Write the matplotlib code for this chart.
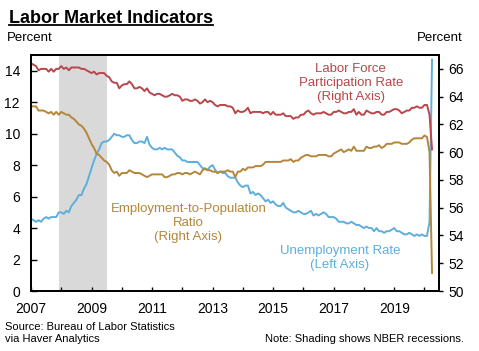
#
# Labor Market Indicators: unemployment rate (left axis), participation and
# employment-to-population ratio (right axis), monthly 2007 - Apr 2020
#
import numpy as np
import matplotlib
matplotlib.use('Agg')
import matplotlib.pyplot as plt
from matplotlib.lines import Line2D

plt.rcParams['font.family'] = ['Liberation Sans', 'DejaVu Sans']

# monthly values, Jan 2007 .. Apr 2020
unemp = [4.6, 4.5, 4.4, 4.5, 4.4, 4.6, 4.7, 4.6, 4.7, 4.7, 4.7, 5.0,
         5.0, 4.9, 5.1, 5.0, 5.4, 5.6, 5.8, 6.1, 6.1, 6.5, 6.8, 7.3,
         7.8, 8.3, 8.7, 9.0, 9.4, 9.5, 9.5, 9.6, 9.8, 10.0, 9.9, 9.9,
         9.8, 9.8, 9.9, 9.9, 9.6, 9.4, 9.4, 9.5, 9.5, 9.4, 9.8, 9.3,
         9.1, 9.0, 9.0, 9.1, 9.0, 9.1, 9.0, 9.0, 9.0, 8.8, 8.6, 8.5,
         8.3, 8.3, 8.2, 8.2, 8.2, 8.2, 8.2, 8.0, 7.8, 7.8, 7.7, 7.9,
         8.0, 7.7, 7.5, 7.6, 7.5, 7.5, 7.3, 7.2, 7.2, 7.2, 6.9, 6.7,
         6.6, 6.7, 6.7, 6.2, 6.3, 6.1, 6.2, 6.1, 5.9, 5.7, 5.8, 5.6,
         5.7, 5.5, 5.4, 5.4, 5.6, 5.3, 5.2, 5.1, 5.0, 5.0, 5.1, 5.0,
         4.9, 4.9, 5.0, 5.1, 4.8, 4.9, 4.8, 4.9, 5.0, 4.9, 4.7, 4.7,
         4.7, 4.6, 4.4, 4.4, 4.4, 4.3, 4.3, 4.4, 4.3, 4.2, 4.2, 4.1,
         4.0, 4.1, 4.0, 4.0, 3.8, 4.0, 3.8, 3.8, 3.7, 3.8, 3.8, 3.9,
         4.0, 3.8, 3.8, 3.7, 3.6, 3.6, 3.7, 3.6, 3.5, 3.6, 3.5, 3.6,
         3.5, 3.5, 4.4, 14.7]

lfpr = [66.4, 66.3, 66.2, 65.9, 66.0, 66.0, 66.0, 65.8, 66.0, 65.8, 66.0, 66.0,
        66.2, 66.0, 66.1, 65.9, 66.1, 66.1, 66.1, 66.1, 66.0, 66.0, 65.9, 65.8,
        65.7, 65.8, 65.6, 65.7, 65.7, 65.7, 65.5, 65.4, 65.1, 65.0, 65.0, 64.6,
        64.8, 64.9, 64.9, 65.1, 64.9, 64.6, 64.6, 64.7, 64.6, 64.4, 64.6, 64.3,
        64.2, 64.1, 64.2, 64.2, 64.1, 64.0, 64.0, 64.1, 64.2, 64.1, 64.1, 64.0,
        63.7, 63.8, 63.8, 63.7, 63.7, 63.8, 63.7, 63.5, 63.6, 63.8, 63.6, 63.7,
        63.6, 63.4, 63.3, 63.4, 63.4, 63.4, 63.3, 63.3, 63.2, 62.8, 63.0, 62.9,
        62.9, 63.0, 63.2, 62.8, 62.9, 62.9, 62.9, 62.9, 62.8, 62.9, 62.9, 62.7,
        62.9, 62.7, 62.7, 62.7, 62.8, 62.6, 62.6, 62.6, 62.4, 62.5, 62.5, 62.7,
        62.7, 62.9, 63.0, 62.8, 62.7, 62.8, 62.8, 62.8, 62.9, 62.8, 62.7, 62.7,
        62.9, 62.9, 63.0, 62.9, 62.8, 62.8, 62.9, 62.9, 63.1, 62.7, 62.9, 62.7,
        62.7, 63.0, 62.9, 62.8, 62.8, 62.9, 62.9, 62.7, 62.7, 62.9, 62.9, 63.0,
        63.1, 63.1, 63.0, 62.8, 62.9, 63.0, 63.0, 63.2, 63.2, 63.3, 63.2, 63.2,
        63.4, 63.4, 62.7, 60.2]

epop = [63.3, 63.3, 63.3, 63.0, 63.0, 63.0, 62.9, 62.8, 62.9, 62.7, 62.9, 62.7,
        62.9, 62.8, 62.7, 62.7, 62.5, 62.4, 62.2, 62.0, 61.9, 61.7, 61.4, 61.0,
        60.6, 60.3, 59.9, 59.8, 59.6, 59.4, 59.3, 59.1, 58.7, 58.5, 58.6, 58.3,
        58.5, 58.5, 58.5, 58.7, 58.6, 58.5, 58.5, 58.5, 58.4, 58.3, 58.2, 58.3,
        58.4, 58.4, 58.4, 58.4, 58.4, 58.2, 58.2, 58.3, 58.4, 58.4, 58.5, 58.5,
        58.4, 58.5, 58.5, 58.4, 58.5, 58.6, 58.5, 58.4, 58.7, 58.8, 58.7, 58.7,
        58.6, 58.6, 58.5, 58.6, 58.6, 58.6, 58.7, 58.6, 58.6, 58.2, 58.6, 58.6,
        58.8, 58.7, 58.9, 58.9, 58.9, 59.0, 59.0, 59.0, 59.1, 59.3, 59.3, 59.3,
        59.3, 59.3, 59.3, 59.3, 59.4, 59.4, 59.4, 59.5, 59.3, 59.4, 59.4, 59.6,
        59.7, 59.8, 59.8, 59.7, 59.7, 59.7, 59.8, 59.8, 59.8, 59.8, 59.7, 59.7,
        59.9, 60.0, 60.1, 60.2, 60.0, 60.1, 60.2, 60.1, 60.4, 60.1, 60.1, 60.1,
        60.1, 60.4, 60.3, 60.3, 60.4, 60.4, 60.5, 60.3, 60.4, 60.6, 60.6, 60.6,
        60.7, 60.7, 60.7, 60.6, 60.6, 60.6, 60.7, 60.9, 61.0, 61.0, 61.0, 61.0,
        61.2, 61.1, 60.0, 51.3]

start_year = 2007
recession = (2007 + 11/12, 2009.5)   # Dec 2007 - Jun 2009
year_ticks = list(range(2007, 2021))

red = '#b8464b'
gold = '#b5863a'
blue = '#5eaedc'

dates = start_year + np.arange(len(unemp)) / 12.0

fig = plt.figure(figsize=(4.79, 3.51), dpi=100)
ax = fig.add_axes([0.0647, 0.1709, 0.8518, 0.6724])
ax2 = ax.twinx()

ax.axvspan(recession[0], recession[1], color='#d9d9d9', lw=0, zorder=0)

ax.plot(dates, unemp, color=blue, lw=1.4, zorder=3)
ax2.plot(dates, lfpr, color=red, lw=1.4)
ax2.plot(dates, epop, color=gold, lw=1.4)

ax.set_xlim(2007, 2020.48)
ax.set_ylim(0, 15)
ax2.set_ylim(50, 67)
ax.set_yticks(range(0, 15, 2))
ax2.set_yticks(range(50, 67, 2))
ax.set_xticks(year_ticks)
ax.set_xticklabels([str(y) if y % 2 == 1 else '' for y in year_ticks])

ax.tick_params(axis='x', direction='in', length=3, width=1, pad=8, labelsize=10)
ax.tick_params(axis='y', direction='in', length=4, width=1, pad=8, labelsize=10)
ax2.tick_params(axis='y', direction='out', length=3, width=1, pad=4, labelsize=10)
for a in (ax, ax2):
    for s in a.spines.values():
        s.set_linewidth(1.3)

# series labels, placed in axes fractions
ax2.text(0.784, 0.881, 'Labor Force\nParticipation Rate\n(Right Axis)', color=red,
         ha='center', va='center', fontsize=9.5, linespacing=1.2, transform=ax2.transAxes)
ax2.text(0.386, 0.288, 'Employment-to-Population\nRatio\n(Right Axis)', color=gold,
         ha='center', va='center', fontsize=9.5, linespacing=1.2, transform=ax2.transAxes)
ax2.text(0.757, 0.140, 'Unemployment Rate\n(Left Axis)', color=blue,
         ha='center', va='center', fontsize=9.5, linespacing=1.2, transform=ax2.transAxes)

fig.text(7/479, 1 - 38/351, 'Percent', fontsize=9.5, va='center', ha='left')
fig.text(463/479, 1 - 38/351, 'Percent', fontsize=9.5, va='center', ha='right')
fig.text(5/479, 1 - 333/351, 'Source: Bureau of Labor Statistics\nvia Haver Analytics',
         fontsize=8, va='center', ha='left', linespacing=1.25)
fig.text(464/479, 1 - 339/351, 'Note: Shading shows NBER recessions.',
         fontsize=8, va='center', ha='right')

title = fig.text(9/479, 1 - 23/351, 'Labor Market Indicators', fontsize=13,
                 fontweight='bold', va='baseline', ha='left')
fig.canvas.draw()
bb = title.get_window_extent().transformed(fig.transFigure.inverted())
yl = 1 - 24.5/351
fig.add_artist(Line2D([bb.x0, bb.x1], [yl, yl], color='black', lw=1.3,
                      transform=fig.transFigure))

fig.savefig('out.png', dpi=100)
